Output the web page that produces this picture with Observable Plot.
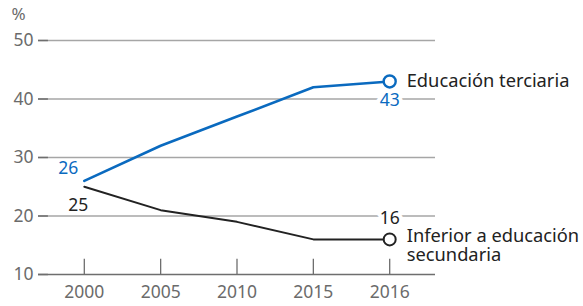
<!DOCTYPE html>
<html>
<head>
<meta charset="utf-8">
<script src="https://cdn.jsdelivr.net/npm/d3@7"></script>
<script src="https://cdn.jsdelivr.net/npm/@observablehq/plot@0.6"></script>
<style>
body { margin: 0; background: #fff; }
svg { font-family: "Noto Sans", "Open Sans", sans-serif; }
</style>
</head>
<body>
<div id="chart"></div>
<script>
const years = ["2000", "2005", "2010", "2015", "2016"];
const terciaria = [26, 32, 37, 42, 43];
const inferior = [25, 21, 19, 16, 16];
const yTicks = [10, 20, 30, 40, 50];
const seriesNames = ["Educación terciaria", "Inferior a educación\nsecundaria"];

const blue = "#0a6abf";
const dark = "#222222";
const grid = "#a6a6a6";
const tickCol = "#6e6e6e";
const labelCol = "#6b6b6b";

const rows = [];
years.forEach((yr, i) => {
  rows.push({i, v: terciaria[i], s: "t"});
  rows.push({i, v: inferior[i], s: "b"});
});
const last = years.length - 1;

const chart = Plot.plot({
  width: 583,
  height: 306,
  marginLeft: 38,
  marginRight: 148,
  marginTop: 40,
  marginBottom: 32,
  x: {domain: [-0.6, 4.6], axis: null},
  y: {domain: [10, 50], axis: null},
  marks: [
    Plot.ruleY(yTicks.slice(1), {stroke: grid, strokeWidth: 1.3}),
    Plot.ruleY(yTicks, {x1: -0.6, x2: -0.47, stroke: tickCol, strokeWidth: 1.5}),
    Plot.ruleY([10], {stroke: tickCol, strokeWidth: 1.3}),
    Plot.ruleX(years.map((d, i) => i), {y1: 10, y2: 12.6, stroke: tickCol, strokeWidth: 1.3}),
    Plot.text(yTicks, {x: -0.6, y: d => d, text: d => String(d), textAnchor: "end", dx: -5, fill: labelCol, fontSize: 17.5}),
    Plot.text(years.map((d, i) => i), {x: d => d, y: 10, text: d => years[d], dy: 18, lineAnchor: "middle", fill: labelCol, fontSize: 17.5}),
    Plot.text(["%"], {x: -0.6, y: 50, text: d => d, dx: -20, dy: -26, fill: labelCol, fontSize: 17}),
    Plot.line(rows.filter(d => d.s === "b"), {x: "i", y: "v", stroke: dark, strokeWidth: 2}),
    Plot.line(rows.filter(d => d.s === "t"), {x: "i", y: "v", stroke: blue, strokeWidth: 2.6}),
    Plot.dot([{i: last, v: terciaria[last]}], {x: "i", y: "v", r: 6, fill: "white", stroke: blue, strokeWidth: 2.4}),
    Plot.dot([{i: last, v: inferior[last]}], {x: "i", y: "v", r: 6, fill: "white", stroke: dark, strokeWidth: 2}),
    Plot.text([{i: 0, v: terciaria[0]}], {x: "i", y: "v", text: d => String(d.v), dx: -16, dy: -13, fill: blue, fontSize: 17.5}),
    Plot.text([{i: 0, v: inferior[0]}], {x: "i", y: "v", text: d => String(d.v), dx: -6, dy: 19, fill: dark, fontSize: 17.5}),
    Plot.text([{i: last, v: terciaria[last]}], {x: "i", y: "v", text: d => String(d.v), dy: 19, fill: blue, fontSize: 17.5, stroke: "white", strokeWidth: 8}),
    Plot.text([{i: last, v: inferior[last]}], {x: "i", y: "v", text: d => String(d.v), dy: -21, fill: dark, fontSize: 17.5, stroke: "white", strokeWidth: 8}),
    Plot.text([{i: last, v: terciaria[last], t: seriesNames[0]}], {x: "i", y: "v", text: "t", textAnchor: "start", dx: 17, fill: dark, fontSize: 18.3}),
    Plot.text([{i: last, v: inferior[last], t: seriesNames[1]}], {x: "i", y: "v", text: "t", textAnchor: "start", lineAnchor: "top", dx: 17, dy: -11, lineHeight: 1.05, fill: dark, fontSize: 18.3})
  ]
});
document.getElementById("chart").appendChild(chart);
</script>
</body>
</html>
